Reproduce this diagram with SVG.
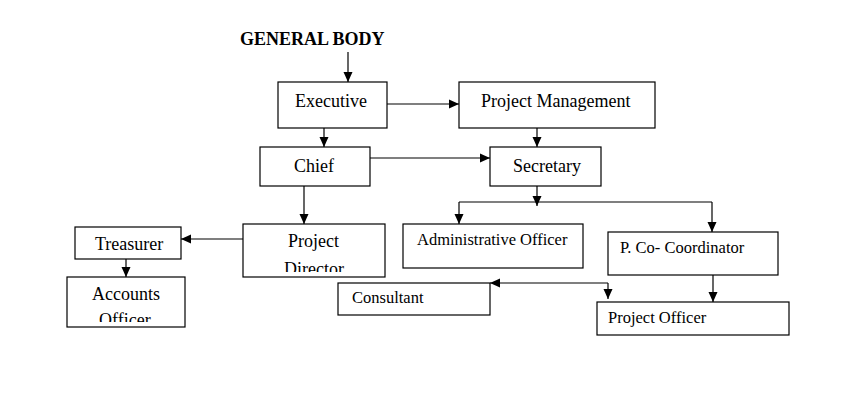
<svg xmlns="http://www.w3.org/2000/svg" width="859" height="410" viewBox="0 0 859 410">
<style>
.box{fill:#fff;stroke:#000;stroke-width:1.2}
.t{font-family:"Liberation Serif","Times New Roman",serif;font-size:18px;fill:#000}
.s{font-size:16.5px}
.b{font-weight:bold}
.c{fill:none;stroke:#000;stroke-width:1.2}
</style>
<defs>
<marker id="ah" markerUnits="userSpaceOnUse" markerWidth="10" markerHeight="10" viewBox="0 0 10 10" refX="10" refY="5" orient="auto">
<path d="M0,0.5 L10,5 L0,9.5 z" fill="#000"/>
</marker>
<clipPath id="cpd"><rect x="243" y="224" width="142" height="48"/></clipPath>
<clipPath id="cao"><rect x="67" y="277" width="118" height="45"/></clipPath>
</defs>
<rect width="859" height="410" fill="#fff"/>
<g id="general-body"><text class="t b" x="240" y="45">GENERAL BODY</text></g>
<g id="executive"><rect class="box" x="278" y="82" width="109" height="46"/><text class="t" x="295" y="107">Executive</text></g>
<g id="project-management"><rect class="box" x="459" y="82" width="196" height="46"/><text class="t" x="481" y="107">Project Management</text></g>
<g id="chief"><rect class="box" x="260" y="147" width="110" height="39"/><text class="t" x="294" y="172">Chief</text></g>
<g id="secretary"><rect class="box" x="490" y="147" width="111" height="39"/><text class="t" x="513" y="172">Secretary</text></g>
<g id="project-director"><rect class="box" x="243" y="224" width="142" height="53"/><g clip-path="url(#cpd)"><text class="t" x="288" y="247">Project</text><text class="t" x="284" y="275">Director</text></g></g>
<g id="treasurer"><rect class="box" x="75" y="227" width="106" height="32"/><text class="t" x="95" y="250">Treasurer</text></g>
<g id="accounts-officer"><rect class="box" x="67" y="277" width="118" height="50"/><g clip-path="url(#cao)"><text class="t" x="92" y="300">Accounts</text><text class="t" x="99" y="326">Officer</text></g></g>
<g id="administrative-officer"><rect class="box" x="403" y="224" width="180" height="44"/><text class="t s" x="417" y="245">Administrative Officer</text></g>
<g id="p-co-coordinator"><rect class="box" x="608" y="232" width="170" height="43"/><text class="t s" x="620" y="253">P. Co- Coordinator</text></g>
<g id="consultant"><rect class="box" x="338" y="283" width="152" height="32"/><text class="t s" x="352" y="303">Consultant</text></g>
<g id="project-officer"><rect class="box" x="597" y="302" width="192" height="33"/><text class="t s" x="608" y="323">Project Officer</text></g>
<g id="connectors">
<path class="c" d="M348,52 V82" marker-end="url(#ah)"/>
<path class="c" d="M387,104 H459" marker-end="url(#ah)"/>
<path class="c" d="M324,128 V147" marker-end="url(#ah)"/>
<path class="c" d="M537,128 V147" marker-end="url(#ah)"/>
<path class="c" d="M370,158 H490" marker-end="url(#ah)"/>
<path class="c" d="M537,186 V206" marker-end="url(#ah)"/>
<path class="c" d="M459,202 H712"/>
<path class="c" d="M459,202 V224" marker-end="url(#ah)"/>
<path class="c" d="M712,202 V232" marker-end="url(#ah)"/>
<path class="c" d="M304,186 V224" marker-end="url(#ah)"/>
<path class="c" d="M243,239 H181" marker-end="url(#ah)"/>
<path class="c" d="M126,259 V277" marker-end="url(#ah)"/>
<path class="c" d="M713,275 V302" marker-end="url(#ah)"/>
<path class="c" d="M608,283 H490" marker-end="url(#ah)"/>
<path class="c" d="M608,283 V299" marker-end="url(#ah)"/>
</g>
</svg>
